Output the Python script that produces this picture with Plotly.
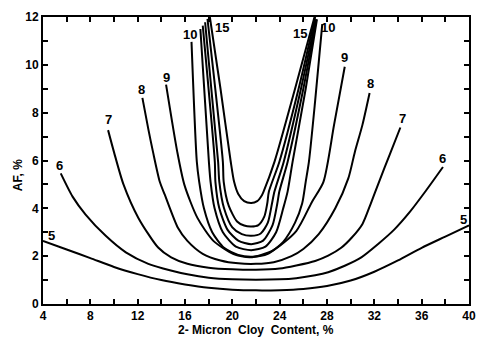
import plotly.graph_objects as go

# Contour curves (x = 2-micron clay content %, y = AF %)
c5_x = [4, 6, 8, 10, 12, 14, 16, 18, 20, 22, 24, 26, 28, 30, 32, 34, 36, 38, 40]
c5_y = [2.64, 2.28, 1.92, 1.55, 1.25, 1.0, 0.82, 0.68, 0.6, 0.57, 0.58, 0.63, 0.75, 0.98, 1.35, 1.82, 2.35, 2.82, 3.29]

c6_x = [5.5, 6.5, 7.6, 9.3, 11.0, 12.9, 14.8, 16.2, 18, 20, 22, 24, 25.4, 27, 28.1, 29.5, 30.9, 32.3, 33.7, 35, 36.2, 37.8]
c6_y = [5.46, 4.49, 3.74, 2.85, 2.16, 1.68, 1.40, 1.24, 1.1, 1.03, 1.01, 1.03, 1.08, 1.2, 1.33, 1.6, 1.95, 2.5, 3.12, 3.85, 4.63, 5.73]

c7_x = [9.5, 10.0, 10.8, 12.06, 13.73, 14.83, 16.2, 18, 20, 22, 24, 25.4, 27, 28.1, 29.2, 30.1, 31.0, 31.7, 32.4, 33.3, 34.2]
c7_y = [7.27, 6.35, 5.0, 3.6, 2.36, 1.95, 1.68, 1.52, 1.45, 1.43, 1.48, 1.61, 1.8, 2.02, 2.35, 2.78, 3.35, 4.2, 5.11, 6.25, 7.38]

c8_x = [12.4, 12.9, 13.3, 13.87, 14.3, 15.4, 16.2, 17.5, 19, 20.5, 22, 23.5, 25.0, 26.0, 27.3, 28.7, 29.8, 30.35, 31.0, 31.6]
c8_y = [8.62, 7.31, 6.35, 5.11, 4.56, 3.19, 2.64, 2.1, 1.82, 1.7, 1.68, 1.75, 2.0, 2.3, 2.92, 4.0, 5.25, 6.35, 7.5, 8.82]

c9_x = [14.4, 15.35, 15.95, 17.05, 18.4, 20.1, 21.5, 23.4, 25.4, 26.75, 27.7, 28.6, 29.5]
c9_y = [9.17, 6.35, 4.98, 3.6, 2.64, 2.09, 1.95, 2.23, 3.05, 4.29, 5.11, 7.5, 9.92]

c10_x = [16.55, 17.0, 17.2, 17.6, 18.3, 19.3, 20.5, 21.7, 23, 24.3, 25.3, 25.9, 26.2, 26.47, 27.0, 27.6]
c10_y = [10.96, 5.94, 5.11, 4.0, 3.0, 2.35, 2.05, 1.98, 2.1, 2.6, 3.4, 4.2, 5.11, 5.94, 8.5, 11.7]

c11_x = [17.3, 18.02, 18.16, 18.5, 19.2, 20.3, 21.6, 22.8, 23.7, 24.3, 24.67, 25.09, 26.2, 27.15]
c11_y = [11.5, 5.94, 5.11, 4.0, 3.0, 2.4, 2.25, 2.4, 3.0, 4.0, 4.7, 5.94, 9.0, 11.9]

c12_x = [17.5, 18.52, 18.57, 18.9, 19.6, 20.5, 21.6, 22.6, 23.4, 23.8, 23.97, 24.67, 26.0, 27.1]
c12_y = [11.64, 5.94, 5.11, 4.0, 3.1, 2.65, 2.5, 2.65, 3.3, 4.2, 4.7, 5.94, 9.0, 11.9]

c13_x = [17.7, 18.8, 18.9, 19.3, 20.0, 20.8, 21.6, 22.4, 23.0, 23.35, 23.56, 24.34, 25.8, 27.05]
c13_y = [11.78, 5.94, 5.11, 4.0, 3.2, 2.92, 2.85, 2.95, 3.4, 4.2, 4.7, 5.94, 9.0, 11.9]

c14_x = [17.9, 19.2, 19.27, 19.7, 20.4, 21.0, 21.6, 22.2, 22.7, 22.95, 23.09, 23.97, 25.6, 27.0]
c14_y = [11.92, 5.94, 5.11, 4.1, 3.45, 3.28, 3.24, 3.3, 3.65, 4.2, 4.7, 5.94, 9.0, 12.0]

c15_x = [18.1, 19.0, 19.85, 20.15, 20.5, 21.0, 21.6, 22.1, 22.5, 22.64, 23.56, 25.3, 27.0]
c15_y = [12.0, 9.0, 6.0, 5.11, 4.6, 4.3, 4.22, 4.3, 4.55, 4.7, 5.94, 9.0, 12.1]

curves = [(c5_x, c5_y), (c6_x, c6_y), (c7_x, c7_y), (c8_x, c8_y), (c9_x, c9_y),
          (c10_x, c10_y), (c11_x, c11_y), (c12_x, c12_y), (c13_x, c13_y),
          (c14_x, c14_y), (c15_x, c15_y)]

# Contour labels
label_text = ["5", "5", "6", "6", "7", "7", "8", "8", "9", "9", "10", "10", "15", "15"]
label_x = [4.75, 39.5, 5.4, 37.75, 9.57, 34.4, 12.34, 31.7, 14.4, 29.5, 16.45, 28.05, 19.15, 25.75]
label_y = [2.85, 3.55, 5.8, 6.1, 7.7, 7.75, 8.95, 9.2, 9.45, 10.3, 11.25, 11.55, 11.55, 11.3]

fig = go.Figure()
for cx, cy in curves:
    fig.add_trace(go.Scatter(x=cx, y=cy, mode="lines",
                             line=dict(color="black", width=2, shape="spline", smoothing=0.7),
                             showlegend=False, hoverinfo="skip"))

for t, lx, ly in zip(label_text, label_x, label_y):
    fig.add_annotation(x=lx, y=ly, text=t, showarrow=False,
                       font=dict(family="Liberation Sans", size=13, color="black", weight="bold"))

fig.add_annotation(xref="paper", yref="paper", x=-0.058, y=0.45, text="AF, %",
                   textangle=-90, showarrow=False, xanchor="center", yanchor="middle",
                   font=dict(family="Liberation Sans", size=12, color="black", weight="bold"))
fig.add_annotation(xref="paper", yref="paper", x=0.5, y=-0.09, text="2- Micron  Cloy  Content, %",
                   showarrow=False, xanchor="center", yanchor="middle",
                   font=dict(family="Liberation Sans", size=12, color="black", weight="bold"))

axis_font = dict(family="Liberation Sans", size=12, color="black", weight="bold")
fig.update_xaxes(range=[4, 40], tick0=4, dtick=4, ticks="inside", ticklen=5, tickwidth=1.5,
                 tickcolor="black", showline=True, linewidth=2, linecolor="black",
                 mirror="ticks", showgrid=False, zeroline=False, tickfont=axis_font,
                 minor=dict(dtick=2, tick0=4, ticks="inside", ticklen=5, tickwidth=1.5,
                            tickcolor="black", showgrid=False))
fig.update_yaxes(range=[0, 12], tick0=0, dtick=2, ticks="inside", ticklen=5, tickwidth=1.5,
                 tickcolor="black", showline=True, linewidth=2, linecolor="black",
                 mirror="ticks", showgrid=False, zeroline=False, tickfont=axis_font,
                 minor=dict(dtick=1, tick0=0, ticks="inside", ticklen=5, tickwidth=1.5,
                            tickcolor="black", showgrid=False))

fig.update_layout(width=486, height=342, margin=dict(l=43, r=10, t=13, b=38),
                  plot_bgcolor="white", paper_bgcolor="white")

fig.write_html("out.html", config={"displayModeBar": False},
               post_script="document.body.style.margin='0';")
